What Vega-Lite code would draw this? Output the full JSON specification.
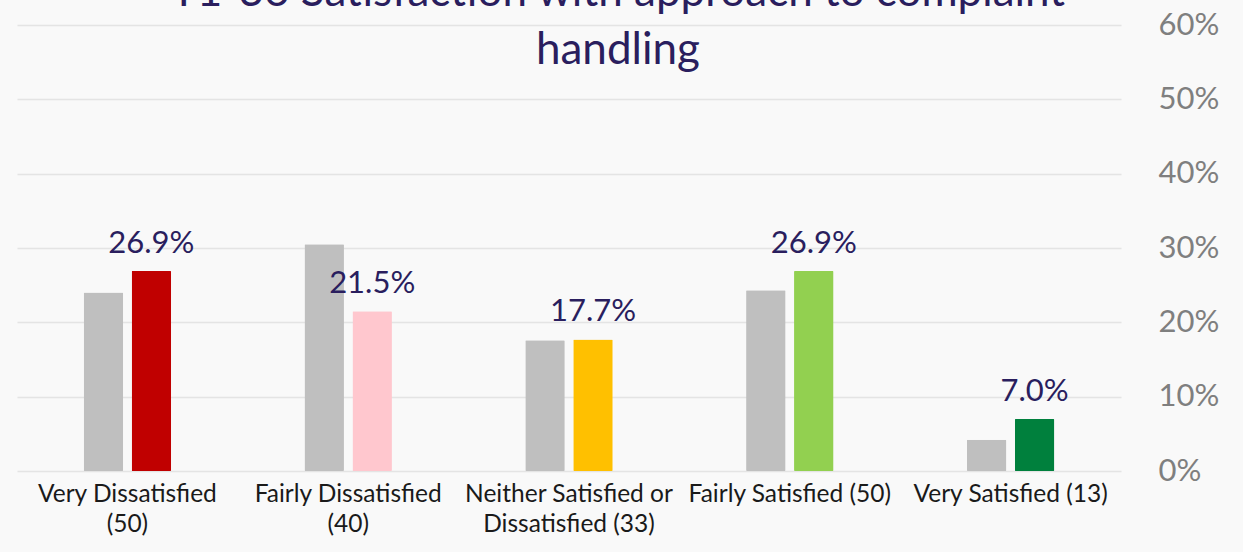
{
  "$schema": "https://vega.github.io/schema/vega-lite/v6.json",
  "width": 1104,
  "height": 446,
  "autosize": {"type": "none"},
  "padding": {"left": 17, "top": 25, "right": 122, "bottom": 81},
  "background": "#f9f9f9",
  "title": {
    "text": ["T1-36 Satisfaction with approach to complaint", "handling"],
    "anchor": "middle",
    "frame": "bounds",
    "font": "Lato",
    "fontSize": 44,
    "fontWeight": "normal",
    "lineHeight": 58,
    "color": "#2a1e5e",
    "offset": 0,
    "dy": 64
  },
  "data": {
    "values": [
      {"category": "Very Dissatisfied (50)", "series": "Previous", "segment": "Previous", "value": 0.240},
      {"category": "Very Dissatisfied (50)", "series": "Current", "segment": "Very Dissatisfied", "value": 0.269},
      {"category": "Fairly Dissatisfied (40)", "series": "Previous", "segment": "Previous", "value": 0.305},
      {"category": "Fairly Dissatisfied (40)", "series": "Current", "segment": "Fairly Dissatisfied", "value": 0.215},
      {"category": "Neither Satisfied or Dissatisfied (33)", "series": "Previous", "segment": "Previous", "value": 0.176},
      {"category": "Neither Satisfied or Dissatisfied (33)", "series": "Current", "segment": "Neither", "value": 0.177},
      {"category": "Fairly Satisfied (50)", "series": "Previous", "segment": "Previous", "value": 0.243},
      {"category": "Fairly Satisfied (50)", "series": "Current", "segment": "Fairly Satisfied", "value": 0.269},
      {"category": "Very Satisfied (13)", "series": "Previous", "segment": "Previous", "value": 0.042},
      {"category": "Very Satisfied (13)", "series": "Current", "segment": "Very Satisfied", "value": 0.070}
    ]
  },
  "encoding": {
    "x": {
      "field": "category",
      "type": "nominal",
      "sort": null,
      "scale": {"paddingInner": 0.604, "paddingOuter": 0.302},
      "axis": {
        "title": null,
        "labelAngle": 0,
        "domain": false,
        "ticks": false,
        "labelFont": "Lato",
        "labelFontSize": 24.5,
        "labelColor": "#1a1a1a",
        "labelPadding": 11,
        "labelBaseline": "top",
        "labelLineHeight": 30,
        "labelOverlap": false,
        "labelBound": false,
        "labelLimit": 0,
        "labelExpr": "datum.value == 'Very Dissatisfied (50)' ? ['Very Dissatisfied', '(50)'] : datum.value == 'Fairly Dissatisfied (40)' ? ['Fairly Dissatisfied', '(40)'] : datum.value == 'Neither Satisfied or Dissatisfied (33)' ? ['Neither Satisfied or', 'Dissatisfied (33)'] : datum.value"
      }
    },
    "xOffset": {
      "field": "series",
      "type": "nominal",
      "sort": ["Previous", "Current"],
      "scale": {"paddingInner": 0.177, "paddingOuter": 0}
    },
    "y": {
      "field": "value",
      "type": "quantitative",
      "scale": {"domain": [0, 0.6], "nice": false},
      "axis": {
        "title": null,
        "orient": "right",
        "format": ".0%",
        "values": [0, 0.1, 0.2, 0.3, 0.4, 0.5, 0.6],
        "domain": false,
        "ticks": false,
        "labelFont": "Lato",
        "labelFontSize": 31,
        "labelColor": "#7f7f7f",
        "labelPadding": 37,
        "gridColor": "#e4e4e4",
        "gridWidth": 1.5
      }
    }
  },
  "layer": [
    {
      "mark": {"type": "bar", "cornerRadius": 1},
      "encoding": {
        "color": {
          "field": "segment",
          "type": "nominal",
          "legend": null,
          "scale": {
            "domain": ["Previous", "Very Dissatisfied", "Fairly Dissatisfied", "Neither", "Fairly Satisfied", "Very Satisfied"],
            "range": ["#bfbfbf", "#c00000", "#ffc7ce", "#ffc000", "#92d050", "#00803d"]
          }
        }
      }
    },
    {
      "transform": [{"filter": "datum.series == 'Current'"}],
      "mark": {"type": "text", "font": "Lato", "fontSize": 31, "color": "#2a1e5e", "baseline": "alphabetic", "dy": -18},
      "encoding": {
        "text": {"field": "value", "type": "quantitative", "format": ".1%"}
      }
    }
  ],
  "config": {"view": {"stroke": null}}
}
